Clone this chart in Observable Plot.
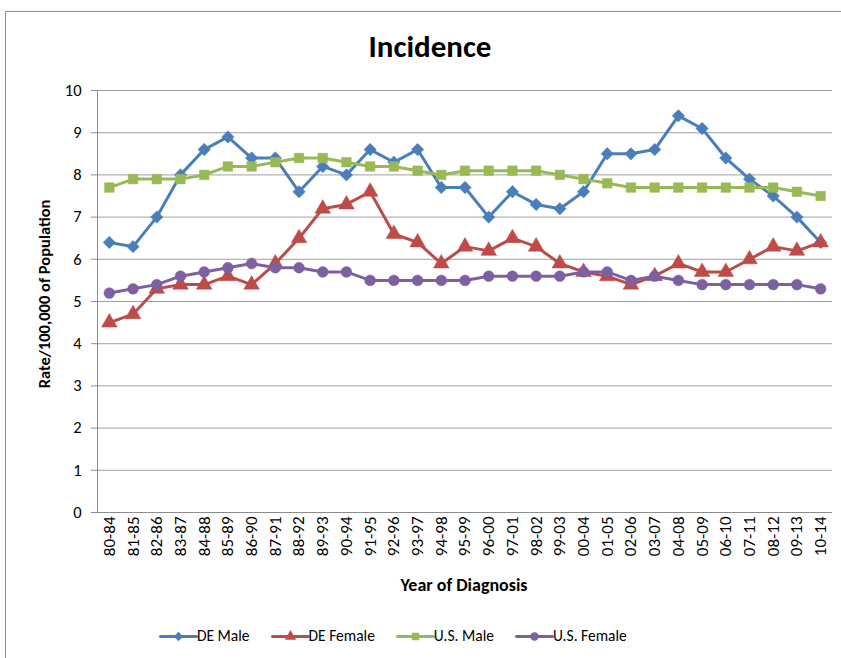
<!DOCTYPE html>
<html>
<head>
<meta charset="utf-8">
<script src="https://cdn.jsdelivr.net/npm/d3@7"></script>
<script src="https://cdn.jsdelivr.net/npm/@observablehq/plot@0.6"></script>
<style>
  html, body { margin: 0; padding: 0; background: #fff; overflow: hidden; }
  #wrap { position: relative; width: 841px; height: 658px; overflow: hidden; font-family: Carlito, Lato, "Open Sans", sans-serif; }
  #frame { position: absolute; left: 5px; top: 11px; width: 900px; height: 700px; border: 1.5px solid #8c8c8c; box-sizing: border-box; }
  #title { position: absolute; left: 0; width: 860px; top: 27px; text-align: center; font-weight: bold; font-size: 31px; color: #000; }
  #chart { position: absolute; left: 0; top: 0; }
  #ylabel { position: absolute; left: 44px; top: 294px; transform: translate(-50%, -50%) rotate(-90deg); font-weight: bold; font-size: 16.5px; white-space: nowrap; color: #000; }
  #xlabel { position: absolute; left: 464px; top: 585px; transform: translate(-50%, -50%); font-weight: bold; font-size: 18px; white-space: nowrap; color: #000; }
  #legend { position: absolute; top: 626px; left: 160px; display: flex; gap: 0; font-size: 15.5px; color: #000; }
  .item { display: flex; align-items: center; margin-right: 22px; }
  .item svg { margin-right: 1px; }
</style>
</head>
<body>
<div id="wrap">
  <div id="frame"></div>
  <div id="title">Incidence</div>
  <div id="chart"></div>
  <div id="ylabel">Rate/100,000 of Population</div>
  <div id="xlabel">Year of Diagnosis</div>
  <div id="legend"></div>
</div>
<script>
const categories = ["80-84","81-85","82-86","83-87","84-88","85-89","86-90","87-91","88-92","89-93","90-94","91-95","92-96","93-97","94-98","95-99","96-00","97-01","98-02","99-03","00-04","01-05","02-06","03-07","04-08","05-09","06-10","07-11","08-12","09-13","10-14"];
const deMale   = [6.4,6.3,7.0,8.0,8.6,8.9,8.4,8.4,7.6,8.2,8.0,8.6,8.3,8.6,7.7,7.7,7.0,7.6,7.3,7.2,7.6,8.5,8.5,8.6,9.4,9.1,8.4,7.9,7.5,7.0,6.4];
const deFemale = [4.5,4.7,5.3,5.4,5.4,5.6,5.4,5.9,6.5,7.2,7.3,7.6,6.6,6.4,5.9,6.3,6.2,6.5,6.3,5.9,5.7,5.6,5.4,5.6,5.9,5.7,5.7,6.0,6.3,6.2,6.4];
const usMale   = [7.7,7.9,7.9,7.9,8.0,8.2,8.2,8.3,8.4,8.4,8.3,8.2,8.2,8.1,8.0,8.1,8.1,8.1,8.1,8.0,7.9,7.8,7.7,7.7,7.7,7.7,7.7,7.7,7.7,7.6,7.5];
const usFemale = [5.2,5.3,5.4,5.6,5.7,5.8,5.9,5.8,5.8,5.7,5.7,5.5,5.5,5.5,5.5,5.5,5.6,5.6,5.6,5.6,5.7,5.7,5.5,5.6,5.5,5.4,5.4,5.4,5.4,5.4,5.3];
const yTicks = [0,1,2,3,4,5,6,7,8,9,10];

const seriesNames = ["DE Male","DE Female","U.S. Male","U.S. Female"];
const seriesValues = [deMale, deFemale, usMale, usFemale];
const colors = ["#4a7ebb","#be4b48","#98b954","#7d60a0"];
const symbols = ["diamond2","triangle","square","circle"];
const sizes = [5.6, 5.8, 5.4, 5.4];

const data = seriesNames.flatMap((s, k) => seriesValues[k].map((v, i) => ({series: s, i, value: v})));

const marks = [
  Plot.gridY(yTicks, {stroke: "#a0a0a0", strokeOpacity: 1, strokeWidth: 1}),
  Plot.ruleY([0], {stroke: "#8c8c8c", strokeWidth: 1}),
  Plot.ruleX([-0.5], {stroke: "#8c8c8c", strokeWidth: 1}),
  Plot.axisY(yTicks, {tickSize: 6, tickPadding: 10, fontSize: 16.5, stroke: "#8c8c8c", label: null, tickFormat: d => String(d)}),
  Plot.axisX(d3.range(categories.length), {tickSize: 0, tickPadding: 4, tickRotate: -90, fontSize: 17, label: null, tickFormat: i => categories[i]})
];
seriesNames.forEach((s, k) => {
  const rows = data.filter(d => d.series === s);
  marks.push(Plot.line(rows, {x: "i", y: "value", stroke: colors[k], strokeWidth: 3}));
  marks.push(Plot.dot(rows, {x: "i", y: "value", fill: colors[k], stroke: colors[k], strokeWidth: 0.5, symbol: () => symbols[k], r: sizes[k]}));
});

const plot = Plot.plot({
  width: 841,
  height: 600,
  marginTop: 90,
  marginBottom: 88,
  marginLeft: 97,
  marginRight: 9,
  style: {fontFamily: "Carlito, Lato, 'Open Sans', sans-serif", color: "#000", background: "transparent", overflow: "visible"},
  x: {type: "linear", domain: [-0.5, categories.length - 0.5]},
  y: {domain: [0, 10]},
  symbol: {type: "identity"},
  marks
});
document.getElementById("chart").appendChild(plot);

// legend, swatches drawn with Plot
const legend = document.getElementById("legend");
seriesNames.forEach((s, k) => {
  const item = document.createElement("div");
  item.className = "item";
  const sw = Plot.plot({
    width: 36, height: 16, margin: 0,
    x: {domain: [0, 2], axis: null}, y: {domain: [0, 1], axis: null},
    style: {background: "transparent", overflow: "visible"},
    marks: [
      Plot.line([{x: 0, y: 0.5}, {x: 2, y: 0.5}], {x: "x", y: "y", stroke: colors[k], strokeWidth: 3}),
      Plot.dot([{x: 1, y: 0.5}], {x: "x", y: "y", fill: colors[k], symbol: () => symbols[k], r: 4.2})
    ]
  });
  item.appendChild(sw);
  const t = document.createElement("span");
  t.textContent = s;
  item.appendChild(t);
  legend.appendChild(item);
});
</script>
</body>
</html>
